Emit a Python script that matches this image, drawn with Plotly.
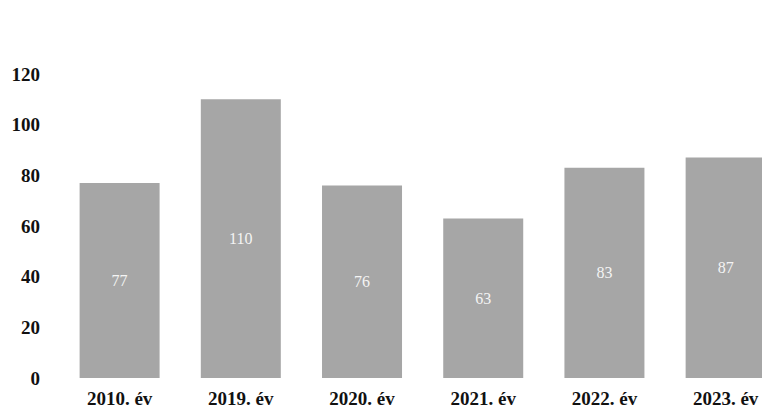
import plotly.graph_objects as go

years = ["2010. év", "2019. év", "2020. év", "2021. év", "2022. év", "2023. év"]
values = [77, 110, 76, 63, 83, 87]

fig = go.Figure()
fig.add_trace(go.Bar(
    x=years,
    y=values,
    marker=dict(color="#a6a6a6", line=dict(width=0)),
    text=[str(v) for v in values],
    textposition="inside",
    insidetextanchor="middle",
    textfont=dict(family="Liberation Serif", size=16, color="#f4f4f4"),
    hoverinfo="x+y",
))

# page body adds an 8px offset, so margins are shifted up/left by that
fig.update_layout(
    width=770,
    height=414,
    margin=dict(l=51, r=0, t=66, b=44, autoexpand=False),
    paper_bgcolor="white",
    plot_bgcolor="white",
    bargap=0.34,
    showlegend=False,
    font=dict(family="Liberation Serif", color="#111111"),
    xaxis=dict(
        range=[-0.5, 5.432],
        automargin=False,
        showgrid=False,
        showline=False,
        ticks="",
        ticklabelstandoff=7,
        tickfont=dict(family="Liberation Serif", size=19, color="#111111", weight="bold"),
    ),
    yaxis=dict(
        range=[0, 120],
        automargin=False,
        tickvals=[0, 20, 40, 60, 80, 100, 120],
        showgrid=False,
        showline=False,
        zeroline=False,
        ticks="",
        ticklabelstandoff=18,
        tickfont=dict(family="Liberation Serif", size=19, color="#111111", weight="bold"),
    ),
)

fig.write_html("out.html")
